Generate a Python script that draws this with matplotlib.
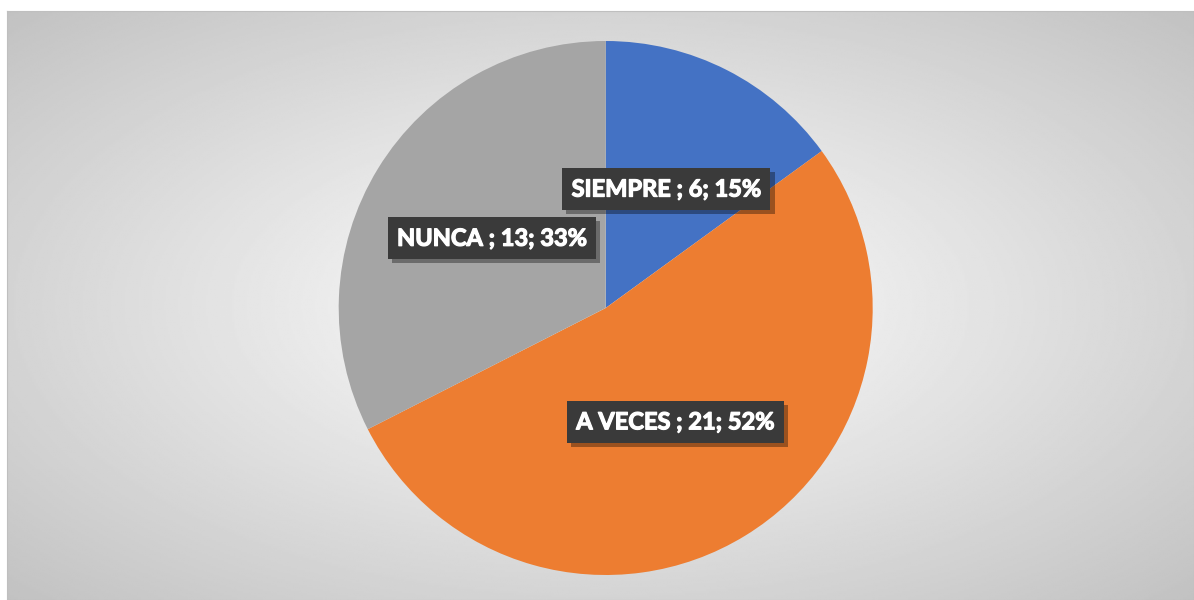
import numpy as np
import matplotlib
matplotlib.use("Agg")
import matplotlib.pyplot as plt
import matplotlib.patheffects as pe

categorias = ["SIEMPRE", "A VECES", "NUNCA"]
valores = [6, 21, 13]
porcentajes = [15, 52, 33]
colores = ["#4472C4", "#ED7D31", "#A5A5A5"]

etiquetas = [f"{c} ; {v}; {p}%" for c, v, p in zip(categorias, valores, porcentajes)]

W, H = 1194, 600
fig = plt.figure(figsize=(W / 100, H / 100), dpi=100)

# fondo con degradado radial
bg = fig.add_axes([7 / W, 0, (W - 7) / W, (H - 11) / H])
yy, xx = np.mgrid[-1:1:300j, -1:1:600j]
r = np.sqrt(xx ** 2 + yy ** 2) / np.sqrt(2)
grad = 1.0 - 0.24 * r
bg.imshow(grad, cmap="gray", vmin=0, vmax=1, aspect="auto", extent=[0, 1, 0, 1])
bg.set_xticks([])
bg.set_yticks([])
for s in bg.spines.values():
    s.set_color("#BFBFBF")
    s.set_linewidth(0.8)

# pastel
cx, cy, rad = 605.7, H - 308, 267
ax = fig.add_axes([(cx - rad) / W, (cy - rad) / H, 2 * rad / W, 2 * rad / H])
wedges, texts = ax.pie(valores, labels=etiquetas, colors=colores, startangle=90,
                       counterclock=False, labeldistance=0.5,
                       wedgeprops=dict(linewidth=0))
for t in texts:
    t.set_ha("center")
    t.set_va("center")
    t.set_color("white")
    t.set_fontsize(17)
    t.set_fontweight("bold")
    t.set_family(["Lato", "DejaVu Sans"])
    t.set_path_effects([pe.withStroke(linewidth=0.9, foreground="white")])
    t.set_bbox(dict(boxstyle="square,pad=0.4", facecolor="#3A3A3A", edgecolor="none"))
    t.get_bbox_patch().set_path_effects([
        pe.SimplePatchShadow(offset=(3, -3), shadow_rgbFace="black", alpha=0.35),
        pe.Normal()])
ax.set_xlim(-1, 1)
ax.set_ylim(-1, 1)
ax.set_aspect("equal")
ax.axis("off")

fig.savefig("out.png", dpi=100)
